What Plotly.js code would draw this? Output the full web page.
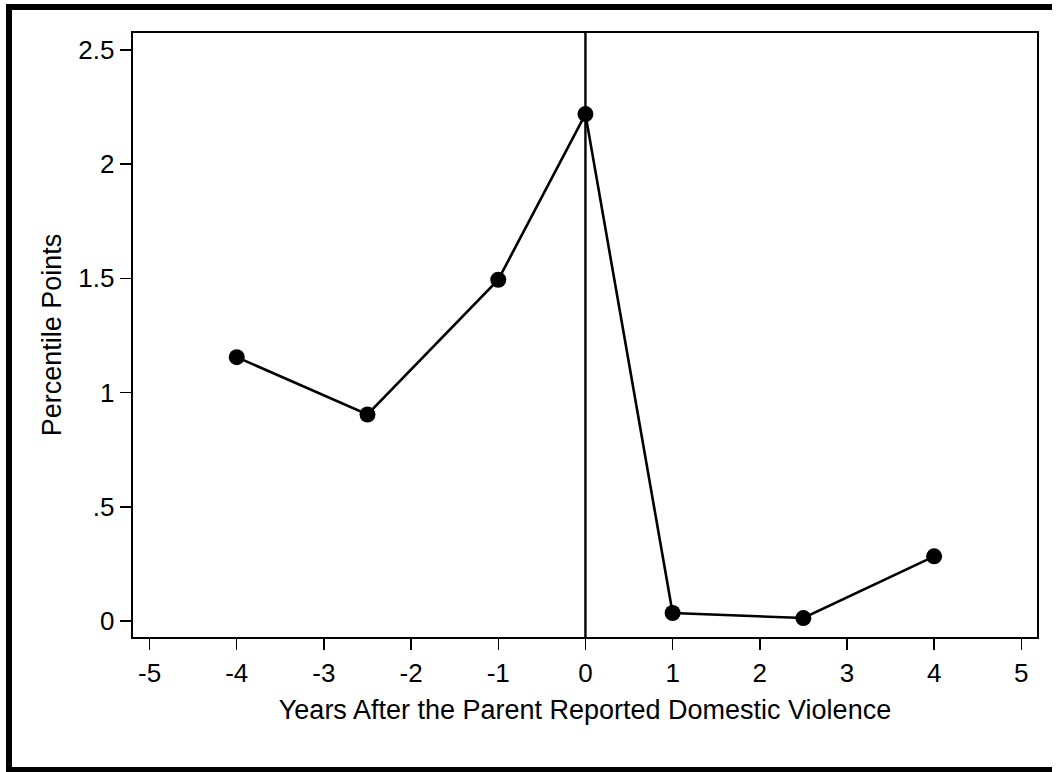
<!DOCTYPE html>
<html>
<head>
<meta charset="utf-8">
<script src="https://cdn.plot.ly/plotly-3.0.1.min.js"></script>
<style>
  html, body { margin: 0; padding: 0; background: #fff; overflow: hidden; }
  #frameL { position: absolute; left: 6px; top: 4px; width: 6px; height: 768px; background: #000; z-index: 5; }
  #frameT { position: absolute; left: 6px; top: 4px; width: 1046px; height: 6px; background: #000; z-index: 5; }
  #frameB { position: absolute; left: 6px; top: 767px; width: 1046px; height: 5px; background: #000; z-index: 5; }
  #chart { position: absolute; left: 0; top: 0; width: 1059px; height: 772px; }
</style>
</head>
<body>
<div id="chart"></div>
<div id="frameL"></div>
<div id="frameT"></div>
<div id="frameB"></div>
<script>
// Data
const years = [-4, -2.5, -1, 0, 1, 2.5, 4];
const percentilePoints = [1.155, 0.904, 1.494, 2.219, 0.035, 0.013, 0.283];

const xTickVals = [-5, -4, -3, -2, -1, 0, 1, 2, 3, 4, 5];
const xTickText = ["-5", "-4", "-3", "-2", "-1", "0", "1", "2", "3", "4", "5"];
const yTickVals = [0, 0.5, 1, 1.5, 2, 2.5];
const yTickText = ["0", ".5", "1", "1.5", "2", "2.5"];

const xTitle = "Years After the Parent Reported Domestic Violence";
const yTitle = "Percentile Points";
const eventYear = 0;

const fontFam = "Liberation Sans, Arial, Helvetica, sans-serif";

const trace = {
  x: years,
  y: percentilePoints,
  type: "scatter",
  mode: "lines+markers",
  line: { color: "#000", width: 2.6 },
  marker: { color: "#000", size: 16 },
  hoverinfo: "x+y",
  cliponaxis: false
};

const layout = {
  width: 1059,
  height: 772,
  paper_bgcolor: "#fff",
  plot_bgcolor: "#fff",
  showlegend: false,
  margin: { l: 133, r: 22, t: 33, b: 135 },
  font: { family: fontFam, color: "#000", size: 26 },
  xaxis: {
    range: [-5.19, 5.18],
    tickmode: "array",
    tickvals: xTickVals,
    ticktext: xTickText,
    ticks: "outside",
    ticklen: 11,
    tickwidth: 1.5,
    tickcolor: "#000",
    showgrid: false,
    zeroline: false,
    showline: true,
    linecolor: "#000",
    linewidth: 2.3,
    mirror: true,
    tickfont: { size: 26, family: fontFam, color: "#000" },
    title: { text: xTitle, font: { size: 27, family: fontFam, color: "#000" }, standoff: 14 },
    automargin: false
  },
  yaxis: {
    range: [-0.07, 2.574],
    tickmode: "array",
    tickvals: yTickVals,
    ticktext: yTickText,
    ticks: "outside",
    ticklen: 11,
    tickwidth: 1.5,
    tickcolor: "#000",
    showgrid: false,
    zeroline: false,
    showline: true,
    linecolor: "#000",
    linewidth: 2.3,
    mirror: true,
    tickfont: { size: 26, family: fontFam, color: "#000" },
    title: { text: yTitle, font: { size: 27, family: fontFam, color: "#000" }, standoff: 9 },
    automargin: false
  },
  shapes: [{
    type: "line",
    xref: "x", yref: "paper",
    x0: eventYear, x1: eventYear, y0: 0, y1: 1,
    line: { color: "#000", width: 2.4 },
    layer: "below"
  }]
};

Plotly.newPlot("chart", [trace], layout, { staticPlot: true, displayModeBar: false });
</script>
</body>
</html>
